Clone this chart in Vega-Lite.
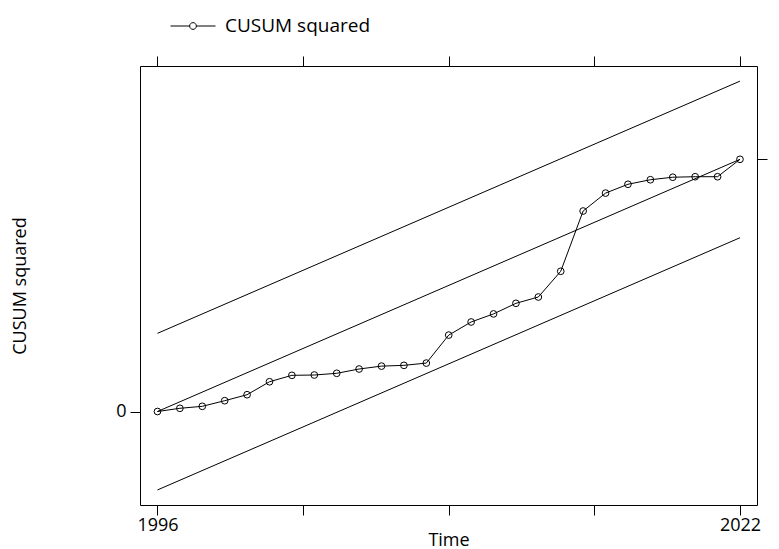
{
  "$schema": "https://vega.github.io/schema/vega-lite/v6.json",
  "width": 617,
  "height": 439,
  "autosize": {"type": "none"},
  "padding": {"left": 140, "top": 66, "right": 22, "bottom": 44},
  "background": "white",
  "config": {
    "font": "Open Sans",
    "view": {"stroke": "black", "strokeWidth": 1},
    "axis": {"grid": false, "domain": false, "tickColor": "black", "tickSize": 10, "labelColor": "black", "titleColor": "black", "labelFontSize": 18, "titleFontSize": 18, "titleFontWeight": "normal", "labelFont": "Open Sans", "titleFont": "Open Sans"}
  },
  "datasets": {
    "cusum": [
      {"Time": 1996, "value": 0, "series": "CUSUM squared"},
      {"Time": 1997, "value": 0.0127, "series": "CUSUM squared"},
      {"Time": 1998, "value": 0.0206, "series": "CUSUM squared"},
      {"Time": 1999, "value": 0.0428, "series": "CUSUM squared"},
      {"Time": 2000, "value": 0.0666, "series": "CUSUM squared"},
      {"Time": 2001, "value": 0.118, "series": "CUSUM squared"},
      {"Time": 2002, "value": 0.1435, "series": "CUSUM squared"},
      {"Time": 2003, "value": 0.1447, "series": "CUSUM squared"},
      {"Time": 2004, "value": 0.1515, "series": "CUSUM squared"},
      {"Time": 2005, "value": 0.1685, "series": "CUSUM squared"},
      {"Time": 2006, "value": 0.18, "series": "CUSUM squared"},
      {"Time": 2007, "value": 0.183, "series": "CUSUM squared"},
      {"Time": 2008, "value": 0.192, "series": "CUSUM squared"},
      {"Time": 2009, "value": 0.303, "series": "CUSUM squared"},
      {"Time": 2010, "value": 0.355, "series": "CUSUM squared"},
      {"Time": 2011, "value": 0.387, "series": "CUSUM squared"},
      {"Time": 2012, "value": 0.429, "series": "CUSUM squared"},
      {"Time": 2013, "value": 0.454, "series": "CUSUM squared"},
      {"Time": 2014, "value": 0.556, "series": "CUSUM squared"},
      {"Time": 2015, "value": 0.795, "series": "CUSUM squared"},
      {"Time": 2016, "value": 0.866, "series": "CUSUM squared"},
      {"Time": 2017, "value": 0.901, "series": "CUSUM squared"},
      {"Time": 2018, "value": 0.919, "series": "CUSUM squared"},
      {"Time": 2019, "value": 0.929, "series": "CUSUM squared"},
      {"Time": 2020, "value": 0.931, "series": "CUSUM squared"},
      {"Time": 2021, "value": 0.931, "series": "CUSUM squared"},
      {"Time": 2022, "value": 1.0, "series": "CUSUM squared"}
    ],
    "bounds": [
      {"Time": 1996, "value": 0.31, "bound": "upper"},
      {"Time": 2022, "value": 1.31, "bound": "upper"},
      {"Time": 1996, "value": 0, "bound": "mean"},
      {"Time": 2022, "value": 1, "bound": "mean"},
      {"Time": 1996, "value": -0.311, "bound": "lower"},
      {"Time": 2022, "value": 0.689, "bound": "lower"}
    ]
  },
  "layer": [
    {
      "data": {"name": "bounds"},
      "mark": {"type": "line", "color": "black", "strokeWidth": 1},
      "encoding": {
        "detail": {"field": "bound"},
        "x": {
          "field": "Time", "type": "quantitative",
          "scale": {"domain": [1995.22, 2022.76], "nice": false, "zero": false},
          "axis": {"orient": "bottom", "values": [1996, 2002.5, 2009, 2015.5, 2022], "labelExpr": "(datum.value == 1996 || datum.value == 2022) ? datum.value + '' : ''", "labelPadding": 1, "title": "Time", "titleBaseline": "alphabetic", "titleY": 40, "labelFlush": false}
        },
        "y": {
          "field": "value", "type": "quantitative",
          "scale": {"domain": [-0.3707, 1.37], "nice": false, "zero": false},
          "axis": {"orient": "left", "values": [0], "format": "d", "labelPadding": 4, "title": "CUSUM squared", "titlePadding": 86}
        }
      }
    },
    {
      "data": {"name": "bounds"},
      "mark": {"type": "rule", "opacity": 0},
      "encoding": {
        "x": {
          "field": "Time", "type": "quantitative",
          "axis": {"orient": "top", "values": [1996, 2002.5, 2009, 2015.5, 2022], "labels": false, "title": null}
        },
        "y": {
          "field": "value", "type": "quantitative",
          "axis": {"orient": "right", "values": [1], "labels": false, "title": null}
        }
      }
    },
    {
      "data": {"name": "cusum"},
      "mark": {"type": "line", "strokeWidth": 1},
      "encoding": {
        "x": {"field": "Time", "type": "quantitative", "axis": null},
        "y": {"field": "value", "type": "quantitative", "axis": null},
        "color": {
          "field": "series", "type": "nominal",
          "scale": {"domain": ["CUSUM squared"], "range": ["black"]},
          "legend": {
            "orient": "none", "legendX": 30, "legendY": -63, "title": null,
            "symbolType": "M-1,0L-0.15,0M0.15,0L1,0M-0.15,0A0.15,0.15 0 1,0 0.15,0A0.15,0.15 0 1,0 -0.15,0",
            "symbolSize": 2025, "symbolStrokeWidth": 1, "symbolFillColor": "transparent", "symbolStrokeColor": "black",
            "labelFontSize": 19, "labelFont": "Open Sans", "labelColor": "black", "labelOffset": 9
          }
        }
      }
    },
    {
      "data": {"name": "cusum"},
      "mark": {"type": "point", "shape": "circle", "filled": false, "size": 45, "strokeWidth": 1, "color": "black", "opacity": 1},
      "encoding": {
        "x": {"field": "Time", "type": "quantitative", "axis": null},
        "y": {"field": "value", "type": "quantitative", "axis": null}
      }
    }
  ]
}
